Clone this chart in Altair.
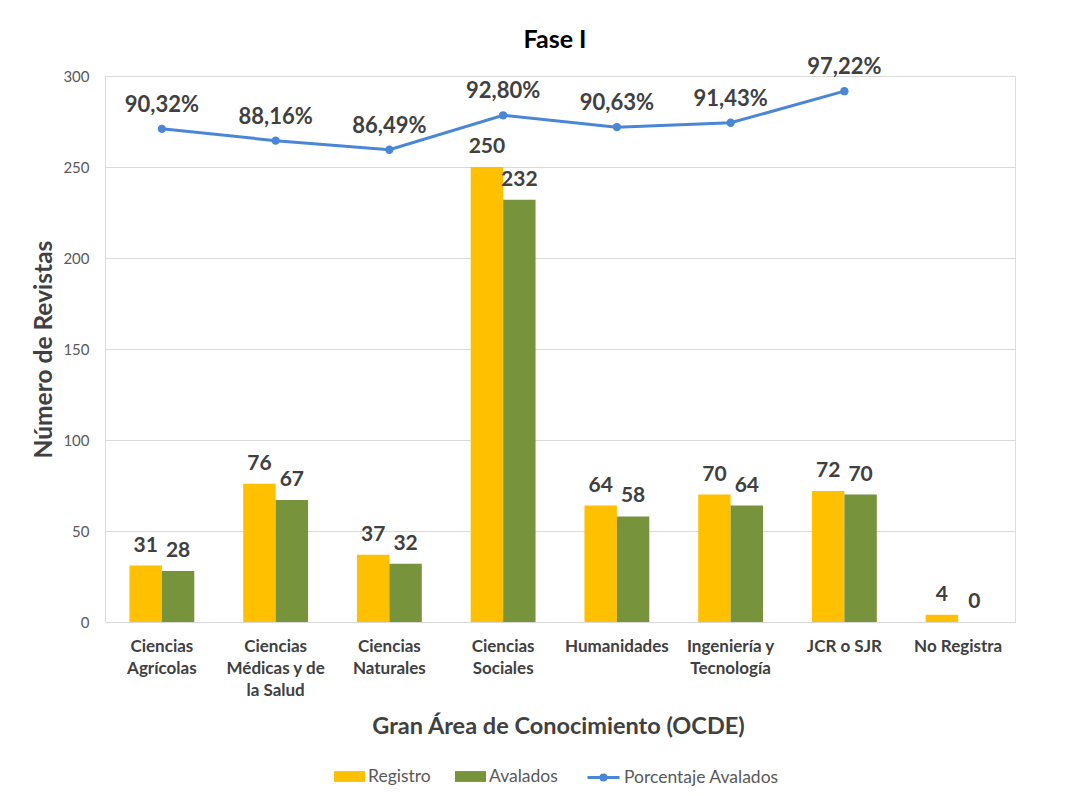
import json
import altair as alt
import pandas as pd

# ---------------- data ----------------
categorias = [
    "Ciencias Agrícolas",
    "Ciencias Médicas y de la Salud",
    "Ciencias Naturales",
    "Ciencias Sociales",
    "Humanidades",
    "Ingeniería y Tecnología",
    "JCR o SJR",
    "No Registra",
]
etiquetas_x = [
    ["Ciencias", "Agrícolas"],
    ["Ciencias", "Médicas y de", "la Salud"],
    ["Ciencias", "Naturales"],
    ["Ciencias", "Sociales"],
    ["Humanidades"],
    ["Ingeniería y", "Tecnología"],
    ["JCR o SJR"],
    ["No Registra"],
]
registro = [31, 76, 37, 250, 64, 70, 72, 4]
avalados = [28, 67, 32, 232, 58, 64, 70, 0]
porcentaje = [90.32, 88.16, 86.49, 92.80, 90.63, 91.43, 97.22, None]

series = ["Registro", "Avalados"]
serie_linea = "Porcentaje Avalados"
colores_barras = ["#FFC000", "#77933C"]
color_linea = "#4A86D6"
y_ticks = [0, 50, 100, 150, 200, 250, 300]

FONT = "Lato"
GRID = "#D9D9D9"
DARK = "#404040"
MID = "#595959"

# ---------------- tables ----------------
rows = []
for c, r, a in zip(categorias, registro, avalados):
    rows.append({"categoria": c, "serie": "Registro", "valor": r})
    rows.append({"categoria": c, "serie": "Avalados", "valor": a})
bars_df = pd.DataFrame(rows)

line_df = pd.DataFrame({"categoria": categorias, "pct": porcentaje})
line_df = line_df.dropna().reset_index(drop=True)
line_df["serie"] = serie_linea
line_df["etiqueta"] = line_df["pct"].map(lambda v: f"{v:.2f}%".replace(".", ","))

# multi-line x labels
label_expr = "datum.value"
for c, lines in reversed(list(zip(categorias, etiquetas_x))):
    label_expr = (
        f"datum.value === {json.dumps(c, ensure_ascii=False)} ? "
        f"{json.dumps(lines, ensure_ascii=False)} : ({label_expr})"
    )

x_enc = alt.X(
    "categoria:N",
    sort=categorias,
    scale=alt.Scale(paddingInner=0.43, paddingOuter=0.215),
    title="Gran Área de Conocimiento (OCDE)",
    axis=alt.Axis(
        labelExpr=label_expr,
        labelAngle=0,
        labelFont=FONT,
        labelFontSize=17,
        labelFontWeight="bold",
        labelColor=DARK,
        labelPadding=16,
        labelLineHeight=22,
        ticks=False,
        domain=True,
        domainColor=GRID,
        domainWidth=1,
        grid=False,
        titleFont=FONT,
        titleFontSize=23.5,
        titleFontWeight="bold",
        titleColor=DARK,
        titleX=453,
        titleY=111,
        titleAlign="center",
        titleBaseline="alphabetic",
        titleAnchor="middle",
    ),
)

y_bar = alt.Y(
    "valor:Q",
    scale=alt.Scale(domain=[0, 300], nice=False),
    title="Número de Revistas",
    axis=alt.Axis(
        values=y_ticks,
        grid=True,
        gridColor=GRID,
        gridWidth=1,
        domain=False,
        ticks=False,
        labelFont=FONT,
        labelFontSize=15,
        labelColor=MID,
        labelPadding=16,
        titleFont=FONT,
        titleFontSize=24.5,
        titleFontWeight="bold",
        titleColor=DARK,
        titleX=-61,
        titleY=273,
        titleAngle=-90,
        titleAlign="center",
        titleBaseline="middle",
    ),
)

y_line = alt.Y("pct:Q", scale=alt.Scale(domain=[0, 100], nice=False), axis=None)

bar_base = alt.Chart(bars_df)
bars = bar_base.mark_bar().encode(
    x=x_enc,
    xOffset=alt.XOffset("serie:N", sort=series, scale=alt.Scale(paddingInner=0)),
    y=y_bar,
    color=alt.Color(
        "serie:N",
        sort=series,
        scale=alt.Scale(domain=series, range=colores_barras),
        legend=alt.Legend(
            title=None,
            orient="none",
            direction="horizontal",
            legendX=229,
            legendY=685,
            symbolType="M-1,-0.35H1V0.35H-1Z",
            symbolSize=961,
            symbolStrokeWidth=0,
            labelFont=FONT,
            labelFontSize=17.5,
            labelColor=MID,
            labelOffset=3,
            columnPadding=24,
            padding=0,
        ),
    ),
)
bar_text = bar_base.mark_text(
    font=FONT, fontSize=21, fontWeight="bold", color=DARK,
    baseline="alphabetic", dy=-14,
).encode(
    x=x_enc,
    xOffset=alt.XOffset("serie:N", sort=series, scale=alt.Scale(paddingInner=0)),
    y=y_bar,
    text=alt.Text("valor:Q"),
)

line_base = alt.Chart(line_df)
line = line_base.mark_line(strokeWidth=3).encode(
    x=x_enc,
    y=y_line,
    stroke=alt.Stroke(
        "serie:N",
        scale=alt.Scale(domain=[serie_linea], range=[color_linea]),
        legend=alt.Legend(
            title=None,
            orient="none",
            direction="horizontal",
            legendX=481,
            legendY=684,
            symbolType="M-1,0H1M-0.16,0A0.16,0.16 0 1,0 0.16,0A0.16,0.16 0 1,0 -0.16,0",
            symbolSize=1024,
            symbolStrokeWidth=3,
            labelFont=FONT,
            labelFontSize=17.5,
            labelColor=MID,
            labelOffset=3,
            padding=0,
        ),
    ),
)
points = line_base.mark_circle(size=70, opacity=1, color=color_linea).encode(
    x=x_enc, y=y_line
)
pct_text = line_base.mark_text(
    font=FONT, fontSize=22, fontWeight="bold", color=DARK,
    baseline="alphabetic", dy=-17,
).encode(x=x_enc, y=y_line, text="etiqueta:N")

chart = (
    alt.layer(alt.layer(bars, bar_text), alt.layer(line, points, pct_text))
    .resolve_scale(y="independent")
    .properties(
        width=910,
        height=546,
        padding={"left": 97, "top": 68, "right": 60, "bottom": 164},
        autosize=alt.AutoSizeParams(type="none"),
        title=alt.TitleParams(
            "Fase I",
            font=FONT,
            fontSize=25,
            fontWeight="bold",
            color="#000000",
            anchor="middle",
            offset=3,
            dx=-5,
        ),
    )
    .configure_view(stroke=None)
    .configure(background="white")
)

chart.save("out.html", embed_options={"renderer": "svg", "actions": False})
